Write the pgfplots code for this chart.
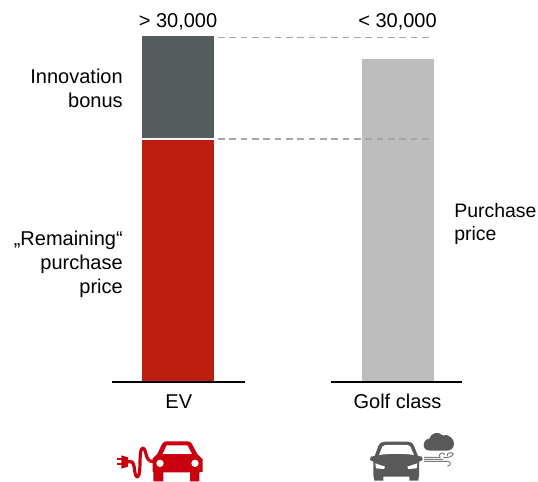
\documentclass[border=0pt]{standalone}
\usepackage{pgfplots}
\pgfplotsset{compat=1.18}
\usepackage{fontspec}
\setmainfont{Liberation Sans}
\definecolor{evdark}{HTML}{565B5D}
\definecolor{evred}{HTML}{BC1E10}
\definecolor{golfgray}{HTML}{BDBDBD}
\definecolor{dashgray}{HTML}{A6A6A6}
\definecolor{iconred}{HTML}{C8000F}
\definecolor{icondark}{HTML}{595959}
\begin{document}
\begin{tikzpicture}
\useasboundingbox (0,0) rectangle (403.5pt,360.75pt);
\begin{axis}[
  scale only axis, width=403.5pt, height=360.75pt,
  xmin=0, xmax=538, ymin=-99, ymax=382,
  axis lines=none, clip=false,
]
\addplot[ybar, fill=evdark, draw=none, bar width=54.6pt, bar shift=0pt] coordinates {(178,346)};
\addplot[ybar, fill=white, draw=none, bar width=54.6pt, bar shift=0pt] coordinates {(178,243.8)};
\addplot[ybar, fill=evred, draw=none, bar width=54.6pt, bar shift=0pt] coordinates {(178,242)};
\addplot[ybar, fill=golfgray, draw=none, bar width=54.6pt, bar shift=0pt] coordinates {(398,322.5)};
\addplot[black, line width=.9pt] coordinates {(112,0) (245,0)};
\addplot[black, line width=.9pt] coordinates {(331,0) (462,0)};
\addplot[dashgray, line width=.8pt, dash pattern=on 5pt off 3.5pt] coordinates {(218,344.5) (429,344.5)};
\addplot[dashgray, line width=.8pt, dash pattern=on 5pt off 3.5pt] coordinates {(218,243) (429,243)};
\path[font=\fontsize{15}{18}\selectfont, every node/.style={inner sep=0pt}]
  (axis cs:178,354.2) node[anchor=base] {> 30,000}
  (axis cs:397.5,354.2) node[anchor=base] {< 30,000}
  (axis cs:178.8,-26.2) node[anchor=base] {EV}
  (axis cs:397.5,-26.2) node[anchor=base] {Golf class}
  (axis cs:123,298.3) node[anchor=base east] {Innovation}
  (axis cs:123,274.3) node[anchor=base east] {bonus}
  (axis cs:123,136) node[anchor=base east] {„Remaining“}
  (axis cs:123,112.7) node[anchor=base east] {purchase}
  (axis cs:123,88.3) node[anchor=base east] {price};
\path[font=\fontsize{14.6}{18}\selectfont, every node/.style={inner sep=0pt}]
  (axis cs:454,164.8) node[anchor=base west] {Purchase}
  (axis cs:454,141) node[anchor=base west] {price};
\end{axis}
% red electric car icon
\begin{scope}[shift={(75pt,45.75pt)}, x=.25pt, y=-.25pt]
  \fill[iconred] (158,155) -- (158,115) -- (172,102) -- (186,72) .. controls (190,65) and (195,64) .. (200,64)
    -- (262,64) .. controls (268,64) and (272,66) .. (276,72) -- (292,102) -- (308,118) -- (308,155) -- (298,157) -- (298,184) -- (270,184) -- (270,157) -- (190,157) -- (190,184) -- (160,184) -- (160,157) -- cycle;
  \fill[white] (188,102) -- (200,76) -- (262,76) -- (276,102) -- cycle;
  \fill[white] (180,130) circle (11);
  \fill[white] (285,130) circle (11);
  \draw[iconred, line width=2.4pt, line cap=round] (80,125) -- (92,125) .. controls (108,125) and (100,170) .. (112,170) .. controls (126,170) and (114,85) .. (128,85) .. controls (142,85) and (132,125) .. (160,125);
  \fill[iconred] (64,106) -- (84,112) -- (84,140) -- (64,146) -- cycle;
  \draw[iconred, line width=1.6pt] (50,117) -- (68,117) (50,133) -- (68,133);
\end{scope}
% dark car with emissions icon
\begin{scope}[shift={(262.5pt,45.75pt)}, x=.25pt, y=-.25pt]
  \fill[icondark] (70,165) -- (70,125) -- (60,120) -- (62,110) -- (74,108) -- (85,78) .. controls (90,68) and (96,65) .. (105,65)
    -- (172,65) .. controls (182,65) and (188,68) .. (192,78) -- (204,108) -- (216,110) -- (218,120) -- (207,125) -- (207,165) -- (205,182) -- (178,182) -- (178,170) -- (100,170) -- (100,182) -- (73,182) -- cycle;
  \fill[white] (87,105) -- (97,80) .. controls (100,76) and (105,75) .. (110,75) -- (168,75) .. controls (174,75) and (178,76) .. (181,80) -- (192,105) .. controls (160,100) and (120,100) .. (87,105) -- cycle;
  \fill[white] (76,130) -- (105,140) -- (102,147) -- (78,145) -- cycle;
  \fill[white] (202,130) -- (172,140) -- (175,147) -- (200,145) -- cycle;
  \fill[icondark] (240,92) .. controls (225,92) and (218,80) .. (222,70) .. controls (224,60) and (232,56) .. (238,56) .. controls (242,40) and (265,32) .. (278,46) .. controls (295,40) and (314,58) .. (312,72) .. controls (312,84) and (302,92) .. (292,92) -- cycle;
  \draw[icondark!80, line width=.7pt] (222,118) -- (280,118) (222,124) -- (292,124) .. controls (304,124) and (304,138) .. (292,138) (222,112) -- (270,112) .. controls (262,100) and (280,94) .. (285,104) (280,112) .. controls (305,116) and (318,100) .. (304,98) .. controls (296,96) and (288,102) .. (292,108);
\end{scope}
\end{tikzpicture}
\end{document}
